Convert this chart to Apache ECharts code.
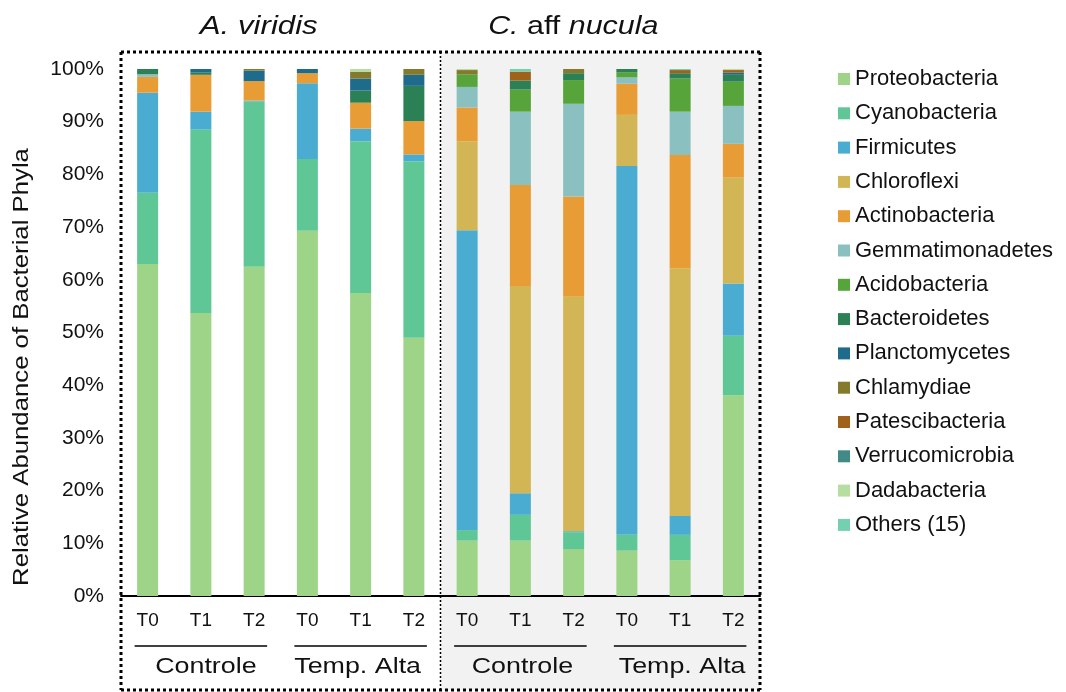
<!DOCTYPE html>
<html>
<head>
<meta charset="utf-8">
<script src="https://cdn.jsdelivr.net/npm/echarts@6/dist/echarts.min.js"></script>
<style>
html,body{margin:0;padding:0;background:#fff;}
#chart{width:1066px;height:692px;}
</style>
</head>
<body>
<div id="chart"></div>
<script>
// ---- data ----
const categories = ['T0','T1','T2','T0','T1','T2','T0','T1','T2','T0','T1','T2'];
const speciesTitles = ['A. viridis', 'C. aff nucula'];
const treatments = ['Controle','Temp. Alta','Controle','Temp. Alta'];
const yTicks = [0,10,20,30,40,50,60,70,80,90,100];

const phyla = ['Proteobacteria','Cyanobacteria','Firmicutes','Chloroflexi','Actinobacteria',
  'Gemmatimonadetes','Acidobacteria','Bacteroidetes','Planctomycetes','Chlamydiae',
  'Patescibacteria','Verrucomicrobia','Dadabacteria','Others (15)'];

const proteobacteria   = [63.0, 53.7, 62.5, 69.3, 57.5, 49.0, 10.5, 10.5,  8.9,  8.6,  6.8, 38.1];
const cyanobacteria    = [13.5, 34.8, 31.3, 13.6, 28.8, 33.5,  2.0,  4.9,  3.2,  3.0,  4.8, 11.3];
const firmicutes       = [19.0,  3.4,  0.2, 14.4,  2.4,  1.3, 56.9,  4.1,  0.2, 70.0,  3.6,  9.9];
const chloroflexi      = [ 0.0,  0.0,  0.0,  0.0,  0.0,  0.0, 16.9, 39.3, 44.5,  9.7, 47.0, 20.1];
const actinobacteria   = [ 3.0,  7.0,  3.7,  1.9,  4.9,  6.3,  6.4, 19.2, 19.0,  5.9, 21.5,  6.4];
const gemmatimonadetes = [ 0.5,  0.0,  0.0,  0.0,  0.0,  0.0,  3.9, 13.9, 17.6,  1.2,  8.2,  7.2];
const acidobacteria    = [ 0.0,  0.0,  0.0,  0.0,  0.0,  0.0,  2.4,  4.2,  4.5,  1.0,  6.3,  4.6];
const bacteroidetes    = [ 1.0,  0.4,  0.0,  0.0,  2.3,  6.7,  0.0,  1.7,  1.3,  0.6,  1.0,  1.3];
const planctomycetes   = [ 0.0,  0.7,  2.0,  0.8,  2.3,  2.1,  0.0,  0.0,  0.0,  0.0,  0.0,  0.4];
const chlamydiae       = [ 0.0,  0.0,  0.3,  0.0,  1.3,  1.1,  0.8,  0.0,  0.8,  0.0,  0.0,  0.0];
const patescibacteria  = [ 0.0,  0.0,  0.0,  0.0,  0.0,  0.0,  0.0,  1.7,  0.0,  0.0,  0.6,  0.5];
const verrucomicrobia  = [ 0.0,  0.0,  0.0,  0.0,  0.0,  0.0,  0.0,  0.0,  0.0,  0.0,  0.0,  0.0];
const dadabacteria     = [ 0.0,  0.0,  0.0,  0.0,  0.5,  0.0,  0.2,  0.0,  0.0,  0.0,  0.0,  0.2];
const others           = [ 0.0,  0.0,  0.0,  0.0,  0.0,  0.0,  0.0,  0.5,  0.0,  0.0,  0.2,  0.0];

const seriesValues = [proteobacteria, cyanobacteria, firmicutes, chloroflexi, actinobacteria,
  gemmatimonadetes, acidobacteria, bacteroidetes, planctomycetes, chlamydiae,
  patescibacteria, verrucomicrobia, dadabacteria, others];

const colors = ['#9dd487','#5ec795','#4bacd1','#d2b655','#e89c36','#8bc0c1','#56a43a',
  '#2b8056','#1f6b8c','#857a2c','#a0621b','#428a88','#b6dea0','#73d1b0'];

// ---- chart ----
const FONT = '"Liberation Sans", Arial, sans-serif';
const chart = echarts.init(document.getElementById('chart'), null, {renderer:'canvas'});

const option = {
  animation: false,
  backgroundColor: '#ffffff',
  textStyle: {fontFamily: FONT},
  grid: {left: 121, right: 306, top: 69, bottom: 96, containLabel: false},
  legend: {
    orient: 'vertical',
    left: 833, top: 63,
    itemWidth: 12, itemHeight: 12,
    itemGap: 12.3, itemTextGap: 4,
    icon: 'rect',
    data: phyla,
    textStyle: {fontFamily: FONT, fontSize: 22, color: '#111', lineHeight: 22},
    selectedMode: false
  },
  xAxis: {
    type: 'category',
    data: categories,
    axisLine: {show: true, lineStyle: {color: '#000', width: 2}},
    axisTick: {show: false},
    axisLabel: {interval: 0, fontFamily: FONT, fontSize: 19, color: '#111', margin: 15}
  },
  yAxis: {
    type: 'value',
    min: 0, max: 100, interval: 10,
    axisLine: {show: false},
    axisTick: {show: false},
    splitLine: {show: false},
    axisLabel: {fontFamily: FONT, fontSize: 21, color: '#111', margin: 17,
      formatter: v => yTicks.indexOf(v) >= 0 ? v + '%' : ''}
  },
  series: seriesValues.map((vals, i) => ({
    name: phyla[i],
    type: 'bar',
    stack: 'total',
    barWidth: 21,
    itemStyle: {color: colors[i]},
    emphasis: {disabled: true},
    data: vals
  }))
};
chart.setOption(option);

// ---- decorations placed from the axis scale ----
const xs = categories.map((c, i) => chart.convertToPixel({xAxisIndex: 0}, i));
const step = xs[1] - xs[0];
const y0 = chart.convertToPixel({yAxisIndex: 0}, 0);
const y100 = chart.convertToPixel({yAxisIndex: 0}, 100);
const leftX = xs[0] - step / 2;
const midX = (xs[5] + xs[6]) / 2;
const rightX = xs[11] + step / 2;
const boxTop = y100 - 17;
const boxBottom = 690;

const dotted = {stroke: '#000', lineWidth: 3, lineDash: [3, 3]};
const graphics = [];
graphics.push({type: 'rect', z: -10, silent: true,
  shape: {x: midX, y: boxTop, width: rightX - midX, height: boxBottom - boxTop},
  style: {fill: '#f2f2f2'}});
graphics.push({type: 'line', z: 10, silent: true, shape: {x1: leftX, y1: boxTop, x2: rightX, y2: boxTop}, style: dotted});
graphics.push({type: 'line', z: 10, silent: true, shape: {x1: leftX, y1: boxTop, x2: leftX, y2: boxBottom}, style: dotted});
graphics.push({type: 'line', z: 10, silent: true, shape: {x1: rightX, y1: boxTop, x2: rightX, y2: boxBottom}, style: dotted});
graphics.push({type: 'line', z: 10, silent: true, shape: {x1: leftX, y1: boxBottom, x2: rightX, y2: boxBottom}, style: dotted});
graphics.push({type: 'line', z: 10, silent: true, shape: {x1: midX, y1: boxTop, x2: midX, y2: boxBottom},
  style: {stroke: '#000', lineWidth: 1.5, lineDash: [2, 2]}});

// group lines and labels
const labelShift = [5, -3, 2, 2];
treatments.forEach((t, g) => {
  const a = xs[g * 3], b = xs[g * 3 + 2];
  graphics.push({type: 'line', silent: true, shape: {x1: a - 13, y1: y0 + 50, x2: b + 13, y2: y0 + 50},
    style: {stroke: '#000', lineWidth: 1.5}});
  graphics.push({type: 'text', silent: true, x: (a + b) / 2 + labelShift[g], y: y0 + 71, scaleX: 1.22,
    style: {text: t, fontFamily: FONT, fontSize: 22, fill: '#111', align: 'center', verticalAlign: 'middle'}});
});

// species titles
const titleCenters = [(xs[0] + xs[5]) / 2 - 22, (xs[6] + xs[11]) / 2 - 27];
graphics.push({type: 'text', silent: true, x: titleCenters[0], y: 27, scaleX: 1.2,
  style: {text: '{i|' + speciesTitles[0] + '}', align: 'center', verticalAlign: 'middle',
    rich: {i: {fontFamily: FONT, fontSize: 26, fontStyle: 'italic', fill: '#111'}}}});
const parts = speciesTitles[1].split(' ');
graphics.push({type: 'text', silent: true, x: titleCenters[1], y: 27, scaleX: 1.17,
  style: {text: '{i|' + parts[0] + ' }{n|' + parts[1] + ' }{i|' + parts[2] + '}', align: 'center', verticalAlign: 'middle',
    rich: {i: {fontFamily: FONT, fontSize: 26, fontStyle: 'italic', fill: '#111'},
           n: {fontFamily: FONT, fontSize: 26, fill: '#111'}}}});

// y axis name
graphics.push({type: 'text', silent: true, x: 22, y: 367, rotation: Math.PI / 2, scaleX: 1.17,
  style: {text: 'Relative Abundance of Bacterial Phyla', fontFamily: FONT, fontSize: 22, fill: '#111',
    align: 'center', verticalAlign: 'middle'}});

chart.setOption({graphic: {elements: graphics}});
</script>
</body>
</html>
